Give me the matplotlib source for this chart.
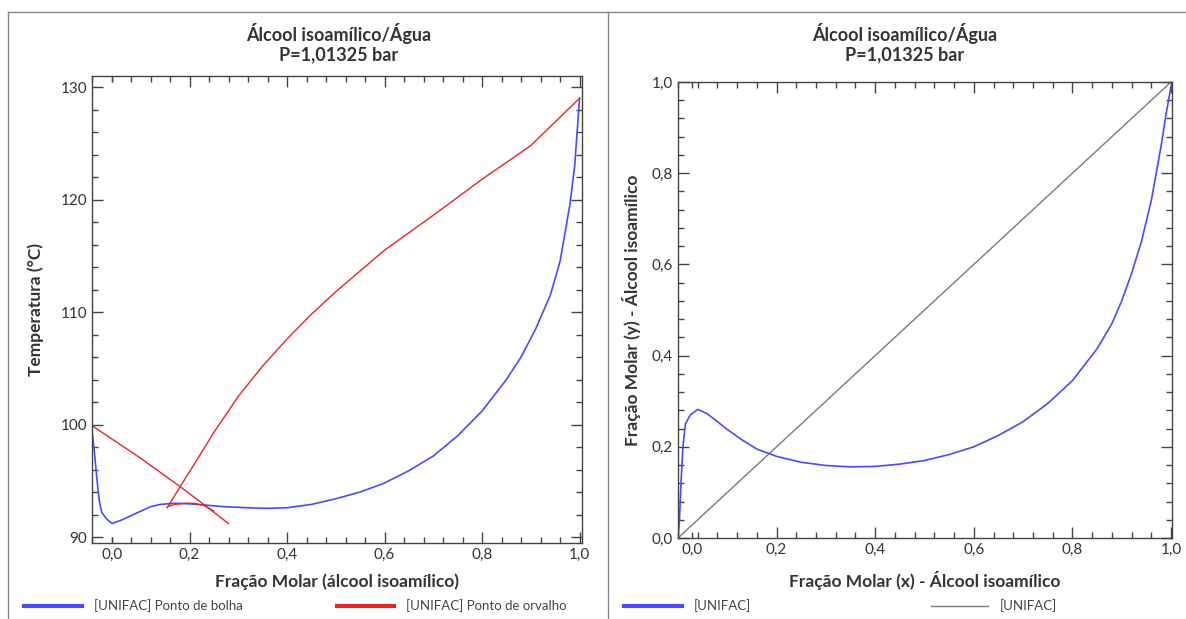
import matplotlib
matplotlib.use("Agg")
import matplotlib.pyplot as plt
from matplotlib.lines import Line2D
from matplotlib.ticker import MultipleLocator

plt.rcParams['font.family'] = ['Lato', 'DejaVu Sans']
plt.rcParams.update({
    'xtick.direction': 'in', 'ytick.direction': 'in',
    'xtick.top': True, 'ytick.right': True,
    'xtick.major.size': 8, 'ytick.major.size': 8,
    'xtick.minor.size': 4, 'ytick.minor.size': 4,
    'xtick.major.width': 1.0, 'ytick.major.width': 1.0,
    'xtick.minor.width': 1.0, 'ytick.minor.width': 1.0,
    'xtick.minor.visible': True, 'ytick.minor.visible': True,
    'xtick.color': '#444444', 'ytick.color': '#444444',
    'xtick.labelcolor': '#333333', 'ytick.labelcolor': '#333333',
    'xtick.labelsize': 11, 'ytick.labelsize': 11,
})

# Diagrama T-x-y
x_bolha = [0.0, 0.005, 0.01, 0.015, 0.02, 0.03, 0.041, 0.06, 0.08, 0.1, 0.12, 0.14, 0.17,
           0.2, 0.23, 0.27, 0.32, 0.36, 0.4, 0.45, 0.5, 0.55, 0.6, 0.65, 0.7, 0.75, 0.8,
           0.85, 0.88, 0.91, 0.94, 0.96, 0.98, 0.99, 1.0]
t_bolha = [99.5, 97.5, 95.2, 93.2, 92.2, 91.6, 91.2, 91.5, 91.9, 92.3, 92.7, 92.9, 93.0,
           92.95, 92.85, 92.7, 92.6, 92.55, 92.6, 92.9, 93.4, 94.0, 94.8, 95.9, 97.2, 99.0, 101.2,
           104.0, 106.0, 108.5, 111.5, 114.5, 119.5, 123.0, 129.0]

x_orvalho_a = [0.0, 0.1, 0.18, 0.22, 0.25, 0.28]
t_orvalho_a = [99.9, 97.0, 94.5, 93.2, 92.2, 91.2]

x_orvalho_b = [0.154, 0.2, 0.25, 0.3, 0.35, 0.4, 0.45, 0.5, 0.6, 0.7, 0.8, 0.9, 1.0]
t_orvalho_b = [92.6, 95.8, 99.3, 102.5, 105.2, 107.6, 109.8, 111.8, 115.5, 118.6, 121.8, 124.8, 129.0]

x_orvalho_c = [0.155, 0.17, 0.19, 0.21, 0.23, 0.25]
t_orvalho_c = [92.7, 92.9, 93.0, 93.0, 92.8, 92.3]

# Diagrama x-y
x_eq = [0.0, 0.003, 0.006, 0.01, 0.015, 0.025, 0.04, 0.06, 0.08, 0.1, 0.13, 0.16, 0.2,
        0.25, 0.3, 0.35, 0.4, 0.45, 0.5, 0.55, 0.6, 0.65, 0.7, 0.75, 0.8, 0.85, 0.88,
        0.9, 0.92, 0.94, 0.96, 0.98, 0.99, 1.0]
y_eq = [0.0, 0.04, 0.12, 0.2, 0.25, 0.27, 0.282, 0.272, 0.255, 0.238, 0.215, 0.195, 0.179,
        0.166, 0.159, 0.156, 0.157, 0.162, 0.17, 0.183, 0.2, 0.225, 0.255, 0.295, 0.345, 0.415, 0.47,
        0.52, 0.58, 0.65, 0.74, 0.86, 0.93, 0.99]
x_diag = [0.0, 1.0]
y_diag = [0.0, 1.0]

titulo = "Álcool isoamílico/Água"
pressao = "P=1,01325 bar"

azul = '#4a4aff'
vermelho = '#e82525'
cinza = '#7a7a7a'
texto = '#333333'

W, H = 1186, 619
fig = plt.figure(figsize=(W / 100, H / 100), dpi=100)


def fx(px):
    return px / W


def fy(py):
    return 1 - py / H


# ---- painel esquerdo ----
ax1 = fig.add_axes([fx(92), fy(543), fx(582 - 92), (543 - 76) / H])
ax1.plot(x_bolha, t_bolha, color=azul, lw=1.2)
ax1.plot(x_orvalho_a, t_orvalho_a, color=vermelho, lw=1.0)
ax1.plot(x_orvalho_b, t_orvalho_b, color=vermelho, lw=1.0)
ax1.plot(x_orvalho_c, t_orvalho_c, color=vermelho, lw=1.0)
ax1.set_xlim(0, 1.005)
ax1.set_ylim(89.47, 130.98)
ax1.set_xticks([0.041, 0.2, 0.4, 0.6, 0.8, 1.0])
ax1.set_xticklabels(["0,0", "0,2", "0,4", "0,6", "0,8", "1,0"])
ax1.xaxis.set_minor_locator(MultipleLocator(0.04))
ax1.set_yticks([90, 100, 110, 120, 130])
ax1.yaxis.set_minor_locator(MultipleLocator(2))
ax1.set_xlabel("Fração Molar (álcool isoamílico)", fontsize=12.5, fontweight='bold',
               color=texto, labelpad=8)
ax1.set_ylabel("Temperatura (°C)", fontsize=12.5, fontweight='bold', color=texto, labelpad=12)

# ---- painel direito ----
ax2 = fig.add_axes([fx(678), fy(538), fx(1172 - 678), (538 - 82) / H])
ax2.plot(x_diag, y_diag, color=cinza, lw=1.0)
ax2.plot(x_eq, y_eq, color=azul, lw=1.2)
ax2.set_xlim(0, 1.002)
ax2.set_ylim(0, 1.0)
ax2.set_xticks([0.028, 0.2, 0.4, 0.6, 0.8, 1.0])
ax2.set_xticklabels(["0,0", "0,2", "0,4", "0,6", "0,8", "1,0"])
ax2.xaxis.set_minor_locator(MultipleLocator(0.04))
ax2.set_yticks([0, 0.2, 0.4, 0.6, 0.8, 1.0])
ax2.set_yticklabels(["0,0", "0,2", "0,4", "0,6", "0,8", "1,0"])
ax2.yaxis.set_minor_locator(MultipleLocator(0.04))
ax2.set_xlabel("Fração Molar (x) - Álcool isoamílico", fontsize=12.5, fontweight='bold',
               color=texto, labelpad=10)
ax2.set_ylabel("Fração Molar (y) - Álcool isoamílico", fontsize=12.5, fontweight='bold',
               color=texto, labelpad=8)

for ax in (ax1, ax2):
    for s in ax.spines.values():
        s.set_color('#444444')
        s.set_linewidth(1.0)
    primeiro = ax.xaxis.get_major_ticks()[0]
    primeiro.tick1line.set_markersize(4)
    primeiro.tick2line.set_markersize(4)

# títulos
for cx in (339, 905):
    fig.text(fx(cx), fy(33), titulo, ha='center', va='center', fontsize=13,
             fontweight='bold', color=texto)
    fig.text(fx(cx), fy(55), pressao, ha='center', va='center', fontsize=13,
             fontweight='bold', color=texto)

# molduras dos painéis
borda = '#8a8a8a'
fig.add_artist(Line2D([fx(8), 1], [fy(12), fy(12)], color=borda, lw=1))
fig.add_artist(Line2D([fx(8), fx(8)], [0, fy(12)], color=borda, lw=1))
fig.add_artist(Line2D([fx(608), fx(608)], [0, fy(12)], color=borda, lw=1))

# legendas
legendas = [
    (24, 82, azul, 3, "[UNIFAC] Ponto de bolha"),
    (337, 394, vermelho, 3, "[UNIFAC] Ponto de orvalho"),
    (624, 682, azul, 3, "[UNIFAC]"),
    (931, 988, cinza, 1, "[UNIFAC]"),
]
for x0, x1, cor, lw, rotulo in legendas:
    fig.add_artist(Line2D([fx(x0), fx(x1)], [fy(606), fy(606)], color=cor, lw=lw))
    fig.text(fx(x1 + 12), fy(606), rotulo, ha='left', va='center', fontsize=9.5,
             color='#444444')

fig.savefig("out.png", dpi=100, facecolor='white')
